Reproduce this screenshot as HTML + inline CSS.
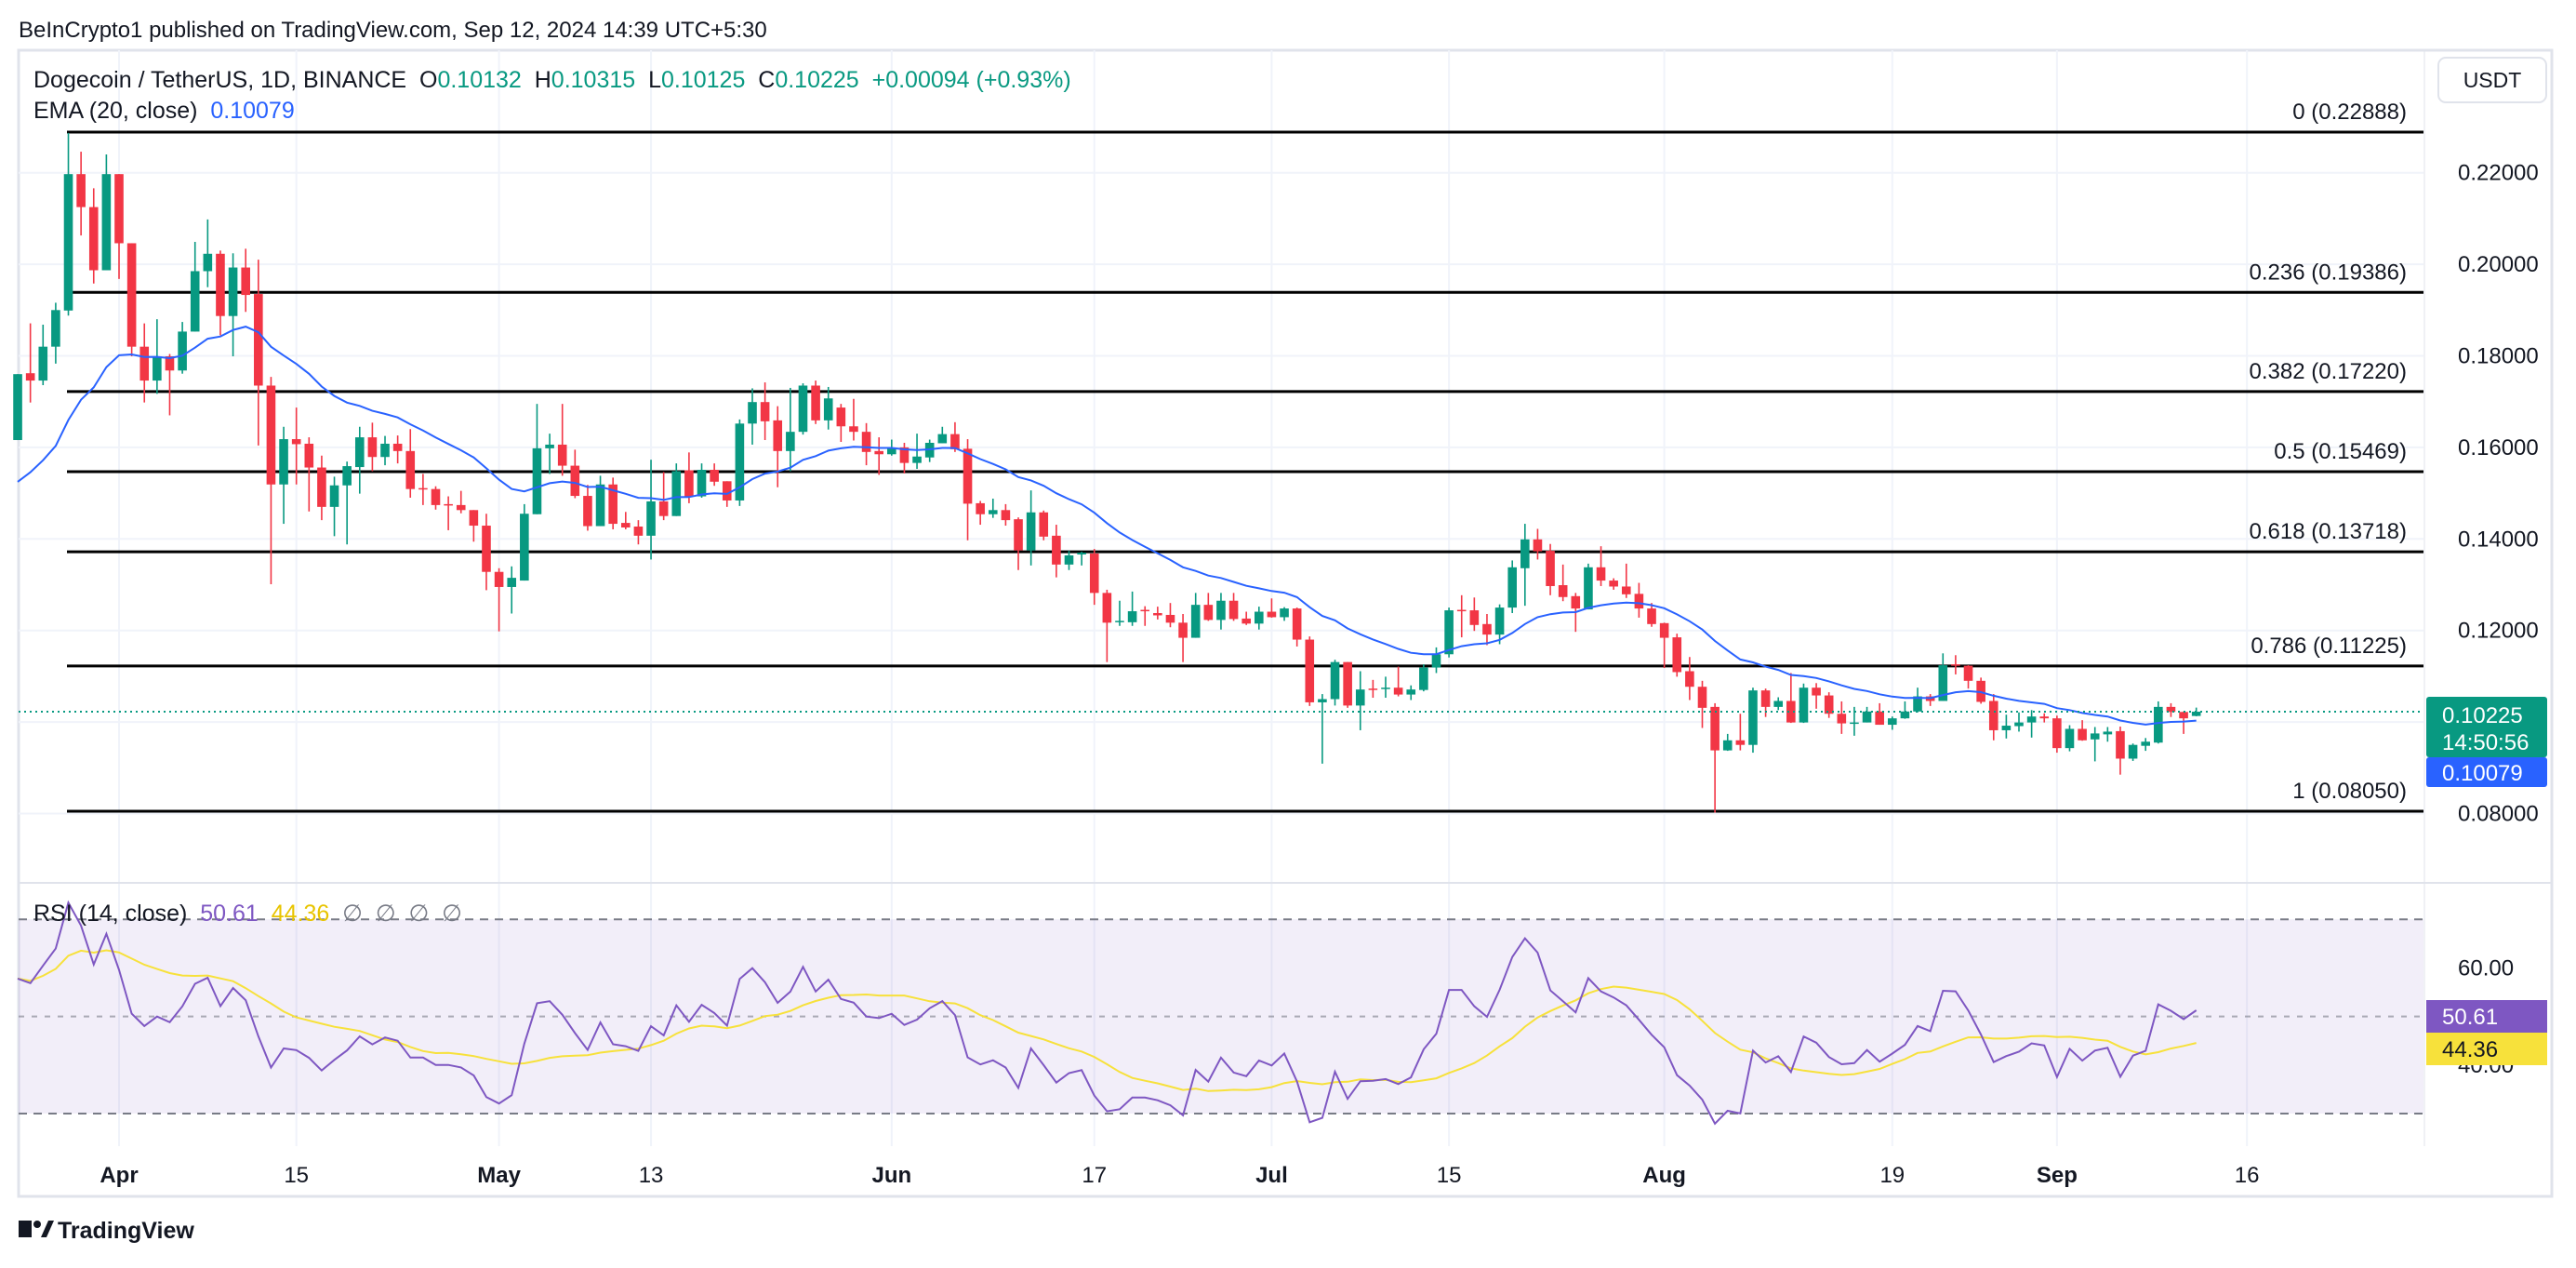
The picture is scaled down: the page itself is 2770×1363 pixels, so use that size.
<!DOCTYPE html>
<html><head><meta charset="utf-8">
<style>
html,body{margin:0;padding:0;background:#fff;}
body{width:2770px;height:1358px;overflow:hidden;font-family:"Liberation Sans",sans-serif;}
svg text{font-family:"Liberation Sans",sans-serif;}
</style></head>
<body>
<svg id="chart" width="2770" height="1358" viewBox="0 0 2770 1358" xmlns="http://www.w3.org/2000/svg">
<rect x="0" y="0" width="2770" height="1358" fill="#fff"/>
<text x="20" y="40" font-size="24" fill="#131722">BeInCrypto1 published on TradingView.com, Sep 12, 2024 14:39 UTC+5:30</text>
<rect x="20" y="54" width="2724" height="1232" fill="none" stroke="#e0e3eb" stroke-width="3"/>
<g id="grid"></g>
<g id="fibs"></g>
<g id="rsiPane"></g>
<g id="candles"></g>
<g id="overlay"></g>
<line x1="2607" y1="54" x2="2607" y2="1232" stroke="#e0e3eb" stroke-width="1"/>
<line x1="20" y1="949" x2="2744" y2="949" stroke="#e0e3eb" stroke-width="2"/>
<g id="axes"></g>
<text x="36" y="94" font-size="25" fill="#131722" xml:space="preserve">Dogecoin / TetherUS, 1D, BINANCE  <tspan>O</tspan><tspan fill="#089981">0.10132</tspan>  <tspan>H</tspan><tspan fill="#089981">0.10315</tspan>  <tspan>L</tspan><tspan fill="#089981">0.10125</tspan>  <tspan>C</tspan><tspan fill="#089981">0.10225</tspan>  <tspan fill="#089981">+0.00094 (+0.93%)</tspan></text>
<text x="36" y="127" font-size="25" fill="#131722" xml:space="preserve">EMA (20, close)  <tspan fill="#2962ff">0.10079</tspan></text>
<text x="36" y="990" font-size="25" fill="#131722" xml:space="preserve">RSI (14, close)  <tspan fill="#7e57c2">50.61</tspan>  <tspan fill="#e8c400">44.36</tspan>  <tspan fill="#787b86">∅  ∅  ∅  ∅</tspan></text>
<g>
<rect x="2622" y="62" width="116" height="48" rx="8" fill="#fff" stroke="#e0e3eb" stroke-width="2"/>
<text x="2680" y="94" font-size="23" fill="#131722" text-anchor="middle">USDT</text>
</g>
<g>
<rect x="20" y="1312" width="14" height="18" fill="#131722"/>
<circle cx="40" cy="1316" r="4" fill="#131722"/>
<polygon points="44,1330 52,1312 58,1312 50,1330" fill="#131722"/>
<text x="62" y="1331" font-size="25" font-weight="bold" fill="#131722">TradingView</text>
</g>
</svg>
<script>
const startDay = -8;
const opens = [.1616,.1762,.1746,.1820,.1899,.2197,.2125,.1987,
.2197,.2046,.1820,.1746,.1799,.1768,.1853,.1985,.2023,.1887,
.1993,.1935,.1735,.1519,.1618,.1608,.1556,.1470,.1517,.1557,
.1622,.1579,.1608,.1592,.1511,.1509,.1476,.1474,.1463,.1429,
.1328,.1295,.1309,.1454,.1598,.1606,.1560,.1494,.1428,.1519,
.1435,.1427,.1407,.1482,.1450,.1550,.1493,.1551,.1526,.1484,
.1652,.1699,.1659,.1592,.1634,.1735,.1659,.1687,.1646,.1634,
.1592,.1585,.1600,.1566,.1578,.1609,.1629,.1597,.1478,.1454,
.1463,.1443,.1375,.1458,.1407,.1344,.1366,.1368,.1282,.1218,
.1218,.1245,.1238,.1234,.1217,.1184,.1256,.1223,.1265,.1226,
.1215,.1241,.1229,.1248,.1180,.1043,.1050,.1131,.1036,.1073,
.1072,.1075,.1060,.1070,.1119,.1148,.1245,.1244,.1214,.1191,
.1250,.1336,.1399,.1374,.1299,.1275,.1246,.1338,.1309,.1296,
.1280,.1248,.1216,.1185,.1111,.1077,.1033,.0938,.0960,.0950,
.1069,.1033,.1046,.0999,.1075,.1058,.1018,.0997,.0999,.1023,
.0994,.1008,.1023,.1056,.1046,.1126,.1123,.1090,.1046,.0982,
.0991,.0999,.1012,.1008,.0943,.0985,.0962,.0973,.0980,.0920,
.0948,.0955,.1033,.1022,.10132];
const highs = [.1760,.1871,.1868,.1916,.2287,.2246,.2166,.2240,
.2197,.2046,.1871,.1880,.1804,.1874,.2049,.2098,.2030,.2024,
.2034,.2010,.1754,.1645,.1687,.1622,.1582,.1536,.1569,.1645,
.1654,.1625,.1626,.1640,.1542,.1515,.1493,.1505,.1463,.1455,
.1336,.1340,.1476,.1695,.1630,.1695,.1595,.1518,.1538,.1534,
.1459,.1441,.1573,.1546,.1565,.1589,.1565,.1565,.1526,.1661,
.1729,.1742,.1690,.1730,.1740,.1746,.1732,.1695,.1706,.1653,
.1622,.1617,.1610,.1630,.1617,.1645,.1655,.1618,.1483,.1488,
.1476,.1447,.1506,.1462,.1431,.1374,.1372,.1378,.1289,.1265,
.1285,.1253,.1252,.1260,.1236,.1282,.1282,.1282,.1282,.1241,
.1252,.1270,.1251,.1250,.1187,.1061,.1136,.1131,.1111,.1092,
.1099,.1121,.1080,.1126,.1163,.1250,.1277,.1272,.1236,.1257,
.1353,.1433,.1422,.1389,.1344,.1282,.1346,.1384,.1314,.1346,
.1304,.1260,.1217,.1193,.1142,.1090,.1041,.0974,.1018,.1075,
.1073,.1054,.1107,.1084,.1085,.1065,.1045,.1033,.1033,.1041,
.1012,.1045,.1075,.1061,.1150,.1146,.1124,.1097,.1061,.1016,
.1021,.1026,.1019,.1014,.0993,.1004,.0989,.0989,.0990,.0953,
.0965,.1045,.1041,.1023,.10315];
const lows = [.1616,.1698,.1736,.1783,.1888,.2063,.1958,.1987,
.1968,.1799,.1698,.1717,.1670,.1761,.1853,.1950,.1845,.1799,
.1896,.1604,.1301,.1433,.1519,.1460,.1441,.1406,.1388,.1499,
.1548,.1561,.1565,.1490,.1474,.1464,.1419,.1456,.1394,.1288,
.1198,.1237,.1309,.1454,.1542,.1538,.1489,.1418,.1428,.1421,
.1421,.1388,.1355,.1441,.1450,.1478,.1490,.1516,.1470,.1472,
.1606,.1616,.1513,.1548,.1628,.1651,.1639,.1612,.1615,.1561,
.1540,.1582,.1543,.1553,.1568,.1609,.1590,.1397,.1431,.1446,
.1429,.1332,.1342,.1397,.1316,.1332,.1342,.1256,.1131,.1210,
.1210,.1210,.1224,.1207,.1131,.1184,.1221,.1202,.1221,.1212,
.1202,.1228,.1221,.1165,.1035,.0909,.1036,.1031,.0982,.1053,
.1053,.1056,.1048,.1067,.1107,.1141,.1185,.1199,.1168,.1170,
.1238,.1254,.1355,.1277,.1264,.1197,.1246,.1297,.1289,.1271,
.1228,.1208,.1118,.1099,.1048,.0987,.0802,.0937,.0938,.0933,
.1011,.1026,.0998,.0998,.1029,.1009,.0974,.0970,.0999,.0994,
.0983,.1007,.1021,.1035,.1046,.1104,.1073,.1040,.0960,.0964,
.0979,.0966,.0999,.0933,.0936,.0959,.0914,.0957,.0885,.0915,
.0937,.0953,.1011,.0974,.10125];
const closes = [.1760,.1746,.1820,.1900,.2197,.2125,.1987,.2197,
.2046,.1820,.1746,.1799,.1768,.1853,.1985,.2023,.1887,.1993,
.1933,.1735,.1519,.1618,.1607,.1556,.1470,.1517,.1559,.1622,
.1579,.1608,.1592,.1509,.1509,.1474,.1474,.1463,.1429,.1328,
.1295,.1315,.1455,.1598,.1606,.1560,.1494,.1428,.1519,.1433,
.1425,.1407,.1482,.1450,.1548,.1493,.1551,.1525,.1484,.1652,
.1699,.1657,.1592,.1634,.1735,.1659,.1707,.1646,.1634,.1590,
.1585,.1598,.1566,.1580,.1610,.1629,.1596,.1477,.1454,.1463,
.1441,.1375,.1458,.1405,.1344,.1364,.1370,.1282,.1217,.1221,
.1242,.1242,.1233,.1217,.1184,.1256,.1223,.1265,.1225,.1215,
.1241,.1229,.1248,.1180,.1043,.1050,.1131,.1036,.1071,.1072,
.1075,.1060,.1071,.1119,.1148,.1244,.1244,.1212,.1191,.1250,
.1338,.1399,.1373,.1297,.1273,.1248,.1338,.1309,.1296,.1279,
.1248,.1214,.1184,.1109,.1077,.1031,.0938,.0960,.0950,.1069,
.1033,.1046,.0999,.1075,.1058,.1018,.0997,.0999,.1023,.0994,
.1008,.1023,.1056,.1046,.1124,.1123,.1090,.1044,.0982,.0992,
.0999,.1012,.1008,.0943,.0985,.0960,.0975,.0979,.0920,.0950,
.0957,.1033,.1022,.1008,.10225];
const emaSeed = 0.150;
const rsiSeedGain = 0.0030;
const rsiSeedLoss = 0.0030;
const fibLevels = ["0","0.236","0.382","0.5","0.618","0.786","1"];
const fibPrices = [0.22888,0.19386,0.17220,0.15469,0.13718,0.11225,0.08050];
const priceTicks = [0.08,0.10,0.12,0.14,0.16,0.18,0.20,0.22];
const rsiTicks = [40,60];
const timeLabels = ["Apr","15","May","13","Jun","17","Jul","15","Aug","19","Sep","16"];
const timeLabelDays = [0,14,30,42,61,77,91,105,122,140,153,168];
const timeLabelBold = [1,0,1,0,1,0,1,0,1,0,1,0];

const NS="http://www.w3.org/2000/svg";
function mk(parent,tag,attrs){const e=document.createElementNS(NS,tag);for(const k in attrs)e.setAttribute(k,attrs[k]);parent.appendChild(e);return e;}
function xOf(day){return 128+13.62*day;}
function yOf(p){return 874.5-4920*(p-0.08);}
function yR(v){return 1092.6-5.22*(v-50);}
const PR=2606;

const grid=document.getElementById('grid');
priceTicks.forEach(p=>{const l=mk(grid,'line',{x1:20,x2:PR,y1:yOf(p),y2:yOf(p),stroke:'#f0f3fa','stroke-width':2});

});
timeLabelDays.forEach(d=>{const l=mk(grid,'line',{x1:xOf(d),x2:xOf(d),y1:54,y2:1232,stroke:'#f0f3fa','stroke-width':2});

});

const rp=document.getElementById('rsiPane');
const band=mk(rp,'rect',{x:20,y:yR(70),width:PR-20,height:yR(30)-yR(70),fill:'#7e57c2','fill-opacity':0.1});


[70,50,30].forEach(v=>{const l=mk(rp,'line',{x1:20,x2:PR,y1:yR(v),y2:yR(v),stroke:'#787b86','stroke-width':2,'stroke-dasharray':v===50?'6,8':'9,7','stroke-opacity':v===50?0.6:1});

});

let ag=rsiSeedGain,al=rsiSeedLoss;const rsi=[];
for(let i=0;i<closes.length;i++){const prev=i===0?opens[0]:closes[i-1];const ch=closes[i]-prev;
ag=(ag*13+Math.max(ch,0))/14;al=(al*13+Math.max(-ch,0))/14;rsi.push(100-100/(1+ag/al));}
const rsiMa=rsi.map((v,i)=>{const s=rsi.slice(Math.max(0,i-13),i+1);return s.reduce((a,b)=>a+b,0)/s.length;});
const maPath=rsiMa.map((v,i)=>(i?'L':'M')+xOf(startDay+i).toFixed(1)+','+yR(v).toFixed(1)).join('');
const maL=mk(rp,'path',{d:maPath,fill:'none',stroke:'#f7e13b','stroke-width':2});


const rsiPath=rsi.map((v,i)=>(i?'L':'M')+xOf(startDay+i).toFixed(1)+','+yR(v).toFixed(1)).join('');
const rL=mk(rp,'path',{d:rsiPath,fill:'none',stroke:'#7e57c2','stroke-width':2});



const fg=document.getElementById('fibs');
fibPrices.forEach((p,i)=>{const l=mk(fg,'line',{x1:72,x2:PR,y1:yOf(p),y2:yOf(p),stroke:'#000','stroke-width':3});


const t=mk(fg,'text',{x:2588,y:yOf(p)-14,'font-size':24,fill:'#131722','text-anchor':'end'});
t.textContent=fibLevels[i]+' ('+p.toFixed(5)+')';

});

const cg=document.getElementById('candles');
for(let i=0;i<closes.length;i++){const x=xOf(startDay+i);const up=closes[i]>=opens[i];const col=up?'#089981':'#f23645';
const w=mk(cg,'line',{x1:x,x2:x,y1:yOf(highs[i]),y2:yOf(lows[i]),stroke:col,'stroke-width':1.6});


const top=yOf(Math.max(opens[i],closes[i]));const h=Math.max(1.5,Math.abs(yOf(opens[i])-yOf(closes[i])));
const b=mk(cg,'rect',{x:x-4.8,y:top,width:9.6,height:h,fill:col});

}

let e=emaSeed;const ema=closes.map(c=>{e=e+(c-e)*2/21;return e;});
const ov=document.getElementById('overlay');
const ep=mk(ov,'path',{d:ema.map((v,i)=>(i?'L':'M')+xOf(startDay+i).toFixed(1)+','+yOf(v).toFixed(1)).join(''),fill:'none',stroke:'#2962ff','stroke-width':2});


const last=closes[closes.length-1];
const cl=mk(ov,'line',{x1:20,x2:PR,y1:yOf(last),y2:yOf(last),stroke:'#089981','stroke-width':2,'stroke-dasharray':'2,4'});



const ax=document.getElementById('axes');
priceTicks.forEach(p=>{const t=mk(ax,'text',{x:2643,y:yOf(p)+8,'font-size':24,fill:'#131722'});t.textContent=p.toFixed(5);

});
rsiTicks.forEach(v=>{const t=mk(ax,'text',{x:2643,y:yR(v)+8,'font-size':24,fill:'#131722'});t.textContent=v.toFixed(2);

});
timeLabels.forEach((s,i)=>{const t=mk(ax,'text',{x:xOf(timeLabelDays[i]),y:1271,'font-size':24,fill:'#131722','text-anchor':'middle','font-weight':timeLabelBold[i]?'bold':'normal'});t.textContent=s;

});
const yl=yOf(last);
const pt=mk(ax,'rect',{x:2609,y:yl-16,width:130,height:65,rx:3,fill:'#089981'});


const t1=mk(ax,'text',{x:2626,y:yl+12,'font-size':24,fill:'#fff'});t1.textContent=last.toFixed(5);


const t2=mk(ax,'text',{x:2626,y:yl+41,'font-size':24,fill:'#fff'});t2.textContent='14:50:56';


const et=mk(ax,'rect',{x:2609,y:yl+49,width:130,height:32,rx:3,fill:'#2962ff'});


const t3=mk(ax,'text',{x:2626,y:yl+74,'font-size':24,fill:'#fff'});t3.textContent='0.10079';


const r1=mk(ax,'rect',{x:2609,y:1075,width:130,height:35,fill:'#7e57c2'});


const r1t=mk(ax,'text',{x:2626,y:1101,'font-size':24,fill:'#fff'});r1t.textContent='50.61';


const r2=mk(ax,'rect',{x:2609,y:1110,width:130,height:35,fill:'#f7e13b'});


const r2t=mk(ax,'text',{x:2626,y:1136,'font-size':24,fill:'#131722'});r2t.textContent='44.36';


</script>
</body></html>
